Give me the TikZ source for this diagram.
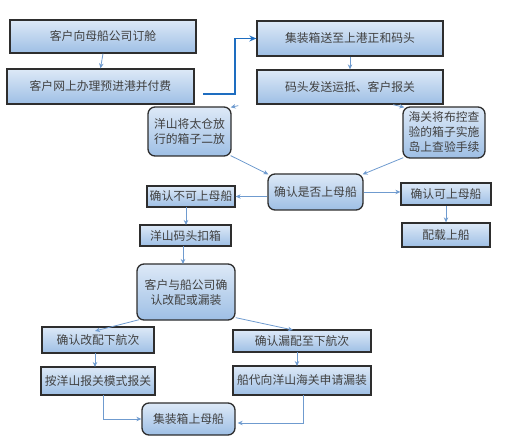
\documentclass[tikz,border=0pt]{standalone}
\usepackage{fontspec}
\setmainfont{Noto Sans CJK SC}
\usetikzlibrary{arrows.meta,calc}
\definecolor{boxtop}{HTML}{DDE9F7}
\definecolor{boxbot}{HTML}{9EBFE5}
\definecolor{edge}{HTML}{2E2E2E}
\definecolor{conn}{HTML}{6F9BCF}
\definecolor{strong}{HTML}{1E6DC0}
\definecolor{txt}{HTML}{404040}
\tikzset{
  flowbox/.style={rectangle, draw=edge, line width=1.3pt, top color=boxtop, bottom color=boxbot,
    text=txt, font=\fontsize{11.8}{15}\selectfont, align=center, inner sep=0pt},
  roundbox/.style={flowbox, rounded corners=7pt},
  link/.style={draw=conn, line width=0.8pt, -{Stealth[length=5pt,width=4.5pt]}},
  boldlink/.style={draw=strong, line width=1.2pt, -{Stealth[length=7pt,width=6pt]}}
}
\begin{document}
\begin{tikzpicture}[x=1pt,y=-1pt]
\useasboundingbox (0,0) rectangle (522,446);
\node[flowbox, minimum width=186pt, minimum height=33pt] (n1) at (103,36.5) {客户向母船公司订舱};
\node[flowbox, minimum width=187pt, minimum height=35pt] (n2) at (100.5,86.5) {客户网上办理预进港并付费};
\node[flowbox, minimum width=186pt, minimum height=35pt] (n3) at (350,38.5) {集装箱送至上港正和码头};
\node[flowbox, minimum width=186pt, minimum height=34pt] (n4) at (350,87) {码头发送运抵、客户报关};
\node[roundbox, minimum width=83pt, minimum height=49pt] (n5) at (189.5,131.5) {洋山将太仓放\\行的箱子二放};
\node[roundbox, minimum width=82pt, minimum height=51pt] (n6) at (444,132.5) {海关将布控查\\验的箱子实施\\岛上查验手续};
\node[roundbox, minimum width=95pt, minimum height=36pt] (n7) at (315.5,192) {确认是否上母船};
\node[flowbox, minimum width=88pt, minimum height=21pt] (n8) at (191,196.5) {确认不可上母船};
\node[flowbox, minimum width=90pt, minimum height=22pt] (n9) at (446,194) {确认可上母船};
\node[flowbox, minimum width=88pt, minimum height=24pt] (n10) at (446,235) {配载上船};
\node[flowbox, minimum width=91pt, minimum height=21pt] (n11) at (185.5,235.5) {洋山码头扣箱};
\node[roundbox, minimum width=98pt, minimum height=56pt] (n12) at (186,292) {客户与船公司确\\认改配或漏装};
\node[flowbox, minimum width=112pt, minimum height=26pt] (n13) at (98,340) {确认改配下航次};
\node[flowbox, minimum width=138pt, minimum height=22pt] (n14) at (302,341) {确认漏配至下航次};
\node[flowbox, minimum width=114pt, minimum height=28pt] (n15) at (98,381) {按洋山报关模式报关};
\node[flowbox, minimum width=138pt, minimum height=29pt] (n16) at (302,380.5) {船代向洋山海关申请漏装};
\node[roundbox, minimum width=93pt, minimum height=32pt] (n17) at (188.5,419) {集装箱上母船};
% connectors
\draw[link] (n1.south) -- (n2.north);
\coordinate (c2) at (203,94);
\draw[boldlink] (c2) -- (235,94) |- (n3.west);
\draw[link] (n3.south) -- (n4.north);
\draw[link] ($(n4.south west)+(-18,1)$) -- ($(n5.north east)+(-1,1)$);
\draw[link] ($(n4.south west)!0.73!(n4.south east)$) -- ($(n6.north west)+(2,1)$);
\draw[link] ($(n5.south east)+(-1,-1)$) -- ($(n7.north west)+(1,1)$);
\draw[link] ($(n6.south west)+(1,-1)$) -- ($(n7.north east)+(-1,1)$);
\draw[link] (n7.west |- n8.east) -- (n8.east);
\draw[link] (n7.east) -- (n9.west |- n7.east);
\draw[link] (n9.south) -- (n10.north);
\draw[link] (186,207) -- (186,225);
\draw[link] (183,246) -- (183,264);
\draw[link] ($(n12.south west)+(3,-1)$) -- (95,331);
\draw[link] ($(n12.south east)+(0,-3)$) -- (293,330);
\draw[link] (95,353) -- (95,367);
\draw[link] (297,352) -- (297,366);
\draw[link] (103,395) |- (n17.west);
\draw[link] (303,395) |- ($(n17.east)+(2,4)$);
\end{tikzpicture}
\end{document}
